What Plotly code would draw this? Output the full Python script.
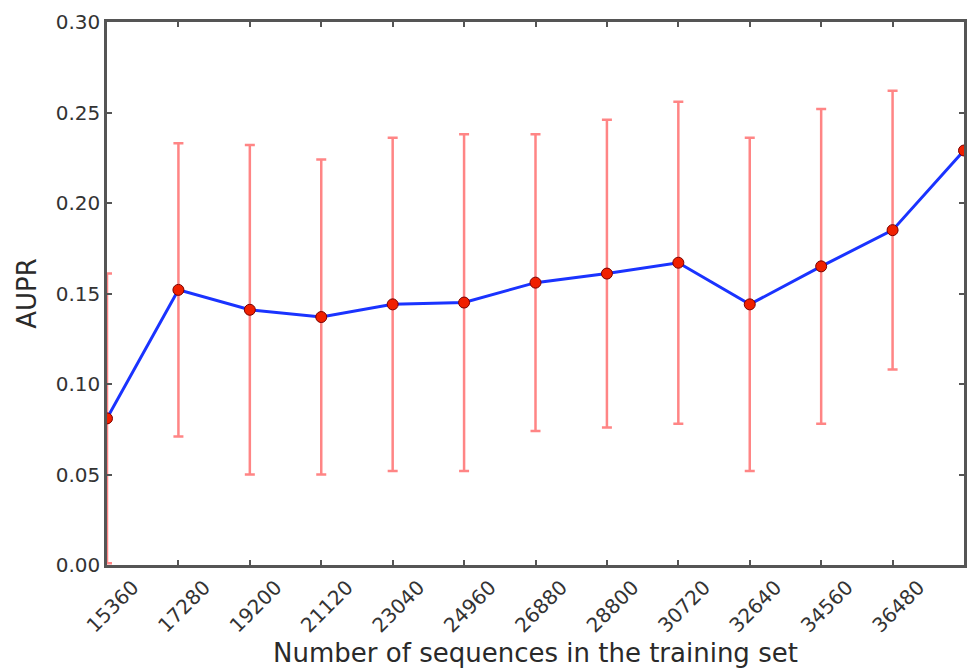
import plotly.graph_objects as go

# Training-set sizes and the resulting AUPR (mean with one standard deviation)
train_sizes = [15360, 17280, 19200, 21120, 23040, 24960, 26880,
               28800, 30720, 32640, 34560, 36480, 38400]
aupr_mean = [0.081, 0.152, 0.141, 0.137, 0.144, 0.145, 0.156,
             0.161, 0.167, 0.144, 0.165, 0.185, 0.229]
aupr_std = [0.080, 0.081, 0.091, 0.087, 0.092, 0.093, 0.082,
            0.085, 0.089, 0.092, 0.087, 0.077, None]

tick_vals = train_sizes[:-1]
tick_text = [str(v) for v in tick_vals]
y_ticks = [0.00, 0.05, 0.10, 0.15, 0.20, 0.25, 0.30]

FONT = "DejaVu Sans"
SPINE = "#555555"

fig = go.Figure()

# Error bars (drawn as their own trace so they sit beneath the line)
fig.add_trace(go.Scatter(
    x=train_sizes, y=aupr_mean,
    mode="markers",
    marker=dict(size=1, color="rgba(0,0,0,0)"),
    error_y=dict(type="data", array=aupr_std, visible=True,
                 color="#ff8585", thickness=2.5, width=5),
    showlegend=False, hoverinfo="skip",
))

# Mean AUPR line with markers
fig.add_trace(go.Scatter(
    x=train_sizes, y=aupr_mean,
    mode="lines+markers",
    line=dict(color="#1a33ff", width=3),
    marker=dict(size=11, color="#f02000", line=dict(color="#7a0000", width=1)),
    showlegend=False,
))

axis_common = dict(
    showline=True, linecolor=SPINE, linewidth=2.5, mirror="ticks",
    ticks="inside", ticklen=5, tickwidth=1.5, tickcolor=SPINE,
    showgrid=False, zeroline=False,
    tickfont=dict(family=FONT, size=20, color="#333333"),
)

fig.update_xaxes(
    range=[train_sizes[0], train_sizes[-1]],
    tickvals=tick_vals, ticktext=tick_text, tickangle=-45,
    ticklabelshift=26,
    title=dict(text="Number of sequences in the training set",
               font=dict(family=FONT, size=26, color="#2a2a2a"), standoff=8),
    **axis_common,
)
fig.update_yaxes(
    range=[y_ticks[0], y_ticks[-1]],
    tickvals=y_ticks, ticktext=[f"{v:.2f}" for v in y_ticks],
    title=dict(text="AUPR", font=dict(family=FONT, size=26, color="#2a2a2a"),
               standoff=12),
    **axis_common,
)

fig.update_layout(
    width=968, height=670,
    margin=dict(l=107, r=1, t=22, b=105),
    paper_bgcolor="white", plot_bgcolor="white",
)

fig.write_html("out.html")
